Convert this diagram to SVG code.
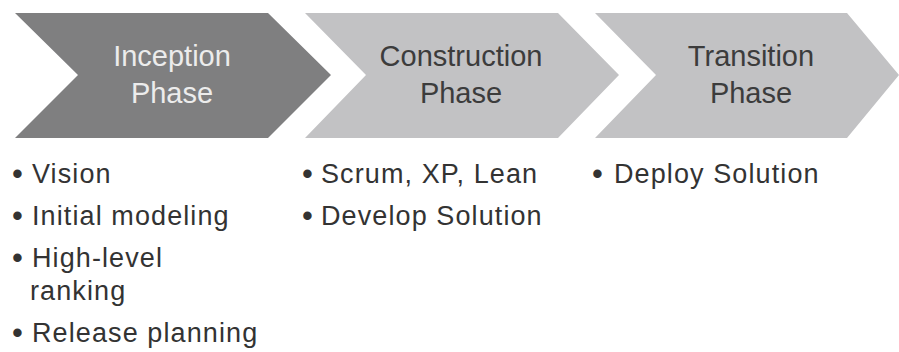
<svg xmlns="http://www.w3.org/2000/svg" width="899" height="352" viewBox="0 0 899 352">
<style>
.dark{fill:#7f7f80}
.light{fill:#c2c2c4}
.h{font-family:"Liberation Sans",Arial,sans-serif;font-size:29px;text-anchor:middle}
.hw{fill:#ececec}
.hd{fill:#3c3c3c}
.b{font-family:"Liberation Sans",Arial,sans-serif;font-size:27px;fill:#333;letter-spacing:1.1px}
.dot{font-family:"Liberation Sans",Arial,sans-serif;font-size:31px;fill:#333}
</style>
<rect width="899" height="352" fill="#ffffff"/>
<g id="inception">
<polygon class="dark" points="15,13 268,13 331,75 268,138 15,138 78,75"/>
<text class="h hw" x="172" y="66">Inception</text>
<text class="h hw" x="172" y="103">Phase</text>
<g class="b">
<text class="dot" x="12" y="184">•</text><text x="32" y="183">Vision</text>
<text class="dot" x="12" y="226">•</text><text x="32" y="225">Initial modeling</text>
<text class="dot" x="12" y="268">•</text><text x="32" y="267">High-level</text>
<text x="30" y="300">ranking</text>
<text class="dot" x="12" y="343">•</text><text x="32" y="342">Release planning</text>
</g>
</g>
<g id="construction">
<polygon class="light" points="305,13 558,13 619,75 558,138 305,138 366,75"/>
<text class="h hd" x="461" y="66">Construction</text>
<text class="h hd" x="461" y="103">Phase</text>
<g class="b">
<text class="dot" x="302" y="184">•</text><text x="321" y="183">Scrum, XP, Lean</text>
<text class="dot" x="302" y="226">•</text><text x="321" y="225">Develop Solution</text>
</g>
</g>
<g id="transition">
<polygon class="light" points="595,13 847,13 899,75 847,138 595,138 656,75"/>
<text class="h hd" x="751" y="66">Transition</text>
<text class="h hd" x="751" y="103">Phase</text>
<g class="b">
<text class="dot" x="592" y="184">•</text><text x="614" y="183">Deploy Solution</text>
</g>
</g>
<g id="connectors"/>
</svg>
